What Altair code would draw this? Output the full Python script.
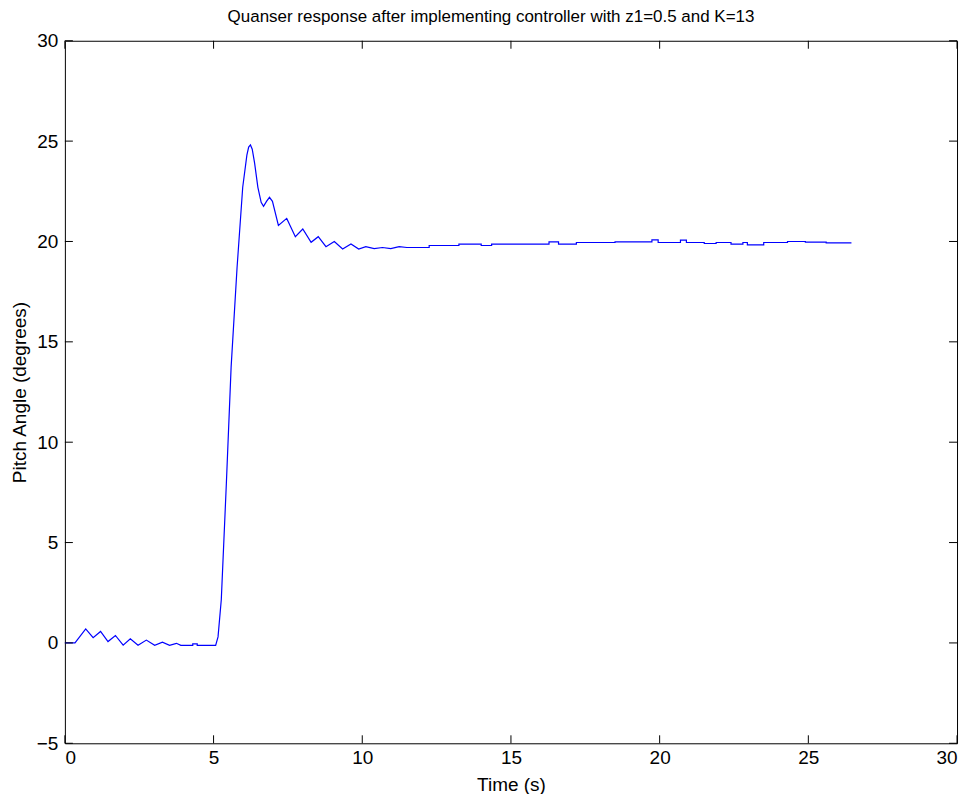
import altair as alt
import pandas as pd

# Time (s)
time_s = [0.0, 0.34, 0.70, 0.95, 1.20, 1.45, 1.70, 1.96, 2.20, 2.46, 2.74, 3.02, 3.28, 3.52, 3.75, 3.90,
          4.30, 4.30, 4.45, 4.45, 5.07, 5.15, 5.26, 5.43, 5.59, 5.79, 5.98, 6.12, 6.18, 6.24, 6.30, 6.38, 6.49,
          6.60, 6.68, 6.78, 6.88, 6.98, 7.18, 7.46, 7.75, 8.00, 8.28, 8.52, 8.78, 9.06, 9.34, 9.62, 9.88, 10.12, 10.40,
          10.68, 10.96, 11.24, 11.50, 11.50, 12.25, 12.25, 13.25, 13.25, 14.00, 14.00, 14.35, 14.35,
          15.27, 15.27, 16.28, 16.28, 16.60, 16.60, 17.20, 17.20, 18.50, 18.50, 19.74, 19.74, 19.95,
          19.95, 20.70, 20.70, 20.90, 20.90, 21.50, 21.50, 21.90, 21.90, 22.40, 22.40, 22.80, 22.80,
          22.95, 22.95, 23.50, 23.50, 24.30, 24.30, 24.90, 24.90, 25.60, 25.60, 26.45]
# Pitch angle (degrees)
pitch_deg = [0.0, 0.0, 0.70, 0.26, 0.57, 0.07, 0.37, -0.11, 0.20, -0.12, 0.14, -0.12, 0.04, -0.12, -0.02, -0.12,
             -0.12, -0.05, -0.05, -0.12, -0.12, 0.30, 2.16, 7.94, 13.74, 18.70, 22.70, 24.30, 24.70, 24.81, 24.60, 23.90, 22.70,
             21.95, 21.75, 22.00, 22.20, 22.00, 20.80, 21.15, 20.24, 20.62, 19.96, 20.24, 19.74, 20.00, 19.63, 19.88, 19.62, 19.74, 19.64,
             19.70, 19.64, 19.74, 19.70, 19.70, 19.70, 19.80, 19.80, 19.87, 19.87, 19.80, 19.80, 19.87,
             19.87, 19.87, 19.87, 19.98, 19.98, 19.87, 19.87, 19.95, 19.95, 19.98, 19.98, 20.08, 20.08,
             19.95, 19.95, 20.07, 20.07, 19.95, 19.95, 19.90, 19.90, 19.95, 19.95, 19.87, 19.87, 19.95,
             19.95, 19.83, 19.83, 19.95, 19.95, 20.00, 20.00, 19.97, 19.97, 19.93, 19.93]

x_ticks = [0, 5, 10, 15, 20, 25, 30]
y_ticks = [-5, 0, 5, 10, 15, 20, 25, 30]

W, H = 894, 704
FONT = "Liberation Sans"

df = pd.DataFrame({"t": time_s, "p": pitch_deg})
xt = pd.DataFrame({"t": x_ticks})
yt = pd.DataFrame({"p": y_ticks})

xscale = alt.Scale(domain=[0, 30], nice=False, zero=False)
yscale = alt.Scale(domain=[-5, 30], nice=False, zero=False)

line = alt.Chart(df).mark_line(color="#0000ff", strokeWidth=1.2).encode(
    x=alt.X("t:Q", scale=xscale, title="Time (s)",
            axis=alt.Axis(values=x_ticks, tickSize=0, domain=False, grid=False,
                          labelPadding=5, titlePadding=8)),
    y=alt.Y("p:Q", scale=yscale, title="Pitch Angle (degrees)",
            axis=alt.Axis(values=y_ticks, tickSize=0, domain=False, grid=False,
                          labelPadding=7, titlePadding=7)),
)

tick_bot = alt.Chart(xt).mark_rule(color="black", strokeWidth=1).encode(
    x=alt.X("t:Q", scale=xscale), y=alt.value(H), y2=alt.value(H - 8))
tick_top = alt.Chart(xt).mark_rule(color="black", strokeWidth=1).encode(
    x=alt.X("t:Q", scale=xscale), y=alt.value(0), y2=alt.value(8))
tick_left = alt.Chart(yt).mark_rule(color="black", strokeWidth=1).encode(
    y=alt.Y("p:Q", scale=yscale), x=alt.value(0), x2=alt.value(8))
tick_right = alt.Chart(yt).mark_rule(color="black", strokeWidth=1).encode(
    y=alt.Y("p:Q", scale=yscale), x=alt.value(W), x2=alt.value(W - 8))

chart = alt.layer(line, tick_bot, tick_top, tick_left, tick_right).properties(
    width=W, height=H,
    title=alt.TitleParams("Quanser response after implementing controller with z1=0.5 and K=13",
                          fontSize=17, font=FONT, fontWeight="normal", color="black",
                          anchor="middle", offset=6, dx=-20),
    autosize=alt.AutoSizeParams(type="none"),
    padding={"left": 57, "top": 32, "right": 10, "bottom": 50},
    background="white",
).configure_view(
    stroke="black", strokeWidth=1
).configure_axis(
    labelFont=FONT, titleFont=FONT, labelFontSize=19, titleFontSize=19,
    labelColor="black", titleColor="black", titleFontWeight="normal"
)

chart.save("out.html", embed_options={"renderer": "svg", "actions": False})
